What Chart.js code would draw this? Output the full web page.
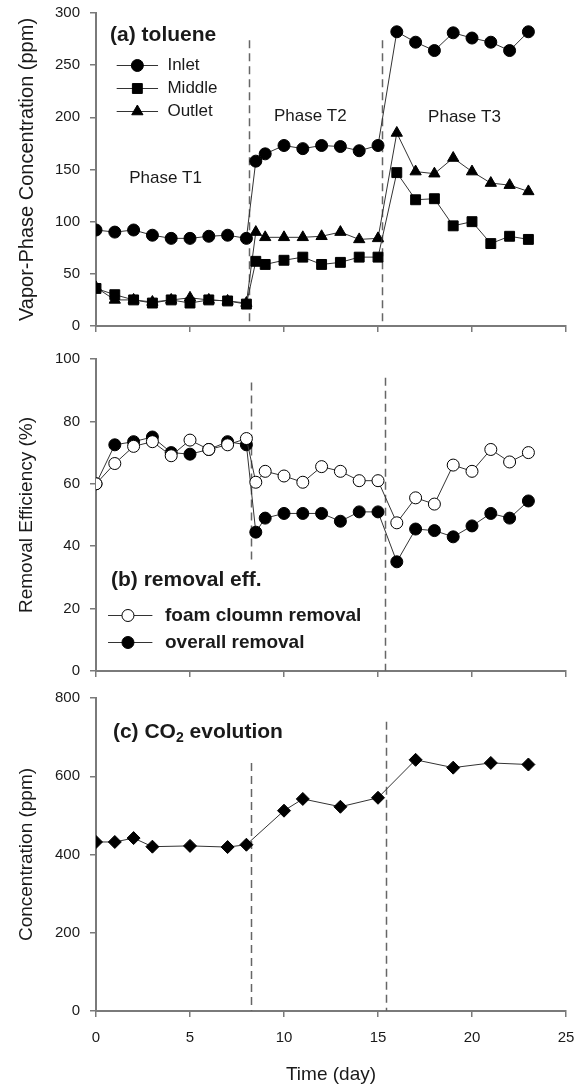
<!DOCTYPE html>
<html>
<head>
<meta charset="utf-8">
<title>Toluene removal</title>
<script src="https://cdn.jsdelivr.net/npm/chart.js@4.4.1/dist/chart.umd.min.js"></script>
<style>
  html, body { margin: 0; padding: 0; background: #fff; }
  #wrap { position: relative; width: 586px; height: 1086px; }
  .panel { position: absolute; left: 0; width: 586px; }
</style>
</head>
<body>
<div id="wrap">
  <div class="panel" style="top:0"><canvas id="chartA" width="586" height="340"></canvas></div>
  <div class="panel" style="top:340px"><canvas id="chartB" width="586" height="340"></canvas></div>
  <div class="panel" style="top:680px"><canvas id="chartC" width="586" height="406"></canvas></div>
</div>
<script>
// ---- data ----
const days = [0, 1, 2, 3, 4, 5, 6, 7, 8, 8.5, 9, 10, 11, 12, 13, 14, 15, 16, 17, 18, 19, 20, 21, 22, 23];
const inlet = [92, 90, 92, 87, 84, 84, 86, 87, 84, 158, 165, 173, 170, 173, 172, 168, 173, 282, 272, 264, 281, 276, 272, 264, 282];
const middle = [36, 30, 25, 22, 25, 22, 25, 24, 21, 62, 59, 63, 66, 59, 61, 66, 66, 147, 121, 122, 96, 100, 79, 86, 83];
const outlet = [37, 25, 25, 23, 25, 27, 25, 24, 22, 90, 85, 85, 85, 86, 90, 83, 84, 185, 148, 146, 161, 148, 137, 135, 129];

const foamEff = [60, 66.5, 72, 73.5, 69, 74, 71, 72.5, 74.5, 60.5, 64, 62.5, 60.5, 65.5, 64, 61, 61, 47.5, 55.5, 53.5, 66, 64, 71, 67, 70];
const overallEff = [60, 72.5, 73.5, 75, 70, 69.5, 71, 73.5, 72.5, 44.5, 49, 50.5, 50.5, 50.5, 48, 51, 51, 35, 45.5, 45, 43, 46.5, 50.5, 49, 54.5];

const co2Days = [0, 1, 2, 3, 5, 7, 8, 10, 11, 13, 15, 17, 19, 21, 23];
const co2 = [432, 432, 442, 420, 422, 419, 425, 512, 542, 522, 545, 642, 622, 634, 630];

const xTicks = [0, 5, 10, 15, 20, 25];
const yTicksA = [0, 50, 100, 150, 200, 250, 300];
const yTicksB = [0, 20, 40, 60, 80, 100];
const yTicksC = [0, 200, 400, 600, 800];

// ---- style ----
const FONT = "'Liberation Sans', Arial, Helvetica, sans-serif";
const AXIS_GRAY = '#7a7a7a';
const LINE_GRAY = '#333';
const DASH_GRAY = '#666';
const TEXT = '#1a1a1a';

const pts = (xs, ys) => xs.map((x, i) => ({ x, y: ys[i] }));

function series(label, xs, ys, style, radius, fill) {
  return {
    label,
    data: pts(xs, ys),
    pointStyle: style,
    pointRadius: radius,
    pointBackgroundColor: fill,
    pointBorderColor: '#000',
    pointBorderWidth: 1,
    borderColor: LINE_GRAY,
    borderWidth: 1,
    tension: 0,
  };
}

function drawMarker(ctx, style, x, y, r, fill) {
  ctx.save();
  ctx.beginPath();
  if (style === 'circle') {
    ctx.arc(x, y, r, 0, Math.PI * 2);
  } else if (style === 'rect') {
    const s = Math.SQRT1_2 * r;
    ctx.rect(x - s, y - s, 2 * s, 2 * s);
  } else if (style === 'triangle') {
    for (let k = 0; k < 3; k++) {
      const a = k * 2 * Math.PI / 3;
      const px = x + Math.sin(a) * r, py = y - Math.cos(a) * r;
      k ? ctx.lineTo(px, py) : ctx.moveTo(px, py);
    }
    ctx.closePath();
  }
  ctx.fillStyle = fill;
  ctx.fill();
  ctx.lineWidth = 1;
  ctx.strokeStyle = '#000';
  ctx.stroke();
  ctx.restore();
}

// dashed phase lines, panel labels, hand-drawn legends
const annotPlugin = {
  id: 'annot',
  beforeDatasetsDraw(chart, args, opts) {
    const { ctx, scales: { x, y } } = chart;
    ctx.save();
    ctx.strokeStyle = DASH_GRAY;
    ctx.lineWidth = 1.5;
    ctx.setLineDash([8, 5]);
    (opts.phaseLines || []).forEach(l => {
      const px = Math.round(x.getPixelForValue(l.x)) + 0.5;
      ctx.beginPath();
      ctx.moveTo(px, y.getPixelForValue(l.from));
      ctx.lineTo(px, y.getPixelForValue(l.to));
      ctx.stroke();
    });
    ctx.restore();
  },
  afterDatasetsDraw(chart, args, opts) {
    const { ctx, scales: { x, y } } = chart;
    ctx.save();
    ctx.fillStyle = TEXT;
    ctx.textBaseline = 'middle';
    (opts.texts || []).forEach(t => {
      let px = x.getPixelForValue(t.x);
      const py = y.getPixelForValue(t.y);
      const weight = t.bold ? 'bold ' : '';
      ctx.textAlign = 'left';
      if (t.center) {
        ctx.font = weight + t.size + 'px ' + FONT;
        px -= ctx.measureText(t.parts.map(p => p.t).join('')).width / 2;
      }
      t.parts.forEach(p => {
        const size = p.sub ? Math.round(t.size * 0.65) : t.size;
        ctx.font = weight + size + 'px ' + FONT;
        ctx.fillText(p.t, px, p.sub ? py + t.size * 0.3 : py);
        px += ctx.measureText(p.t).width;
      });
    });
    const lg = opts.legend;
    if (lg) {
      lg.rows.forEach(row => {
        const ds = chart.data.datasets[row.ds];
        const py = Math.round(y.getPixelForValue(row.y)) + 0.5;
        const x0 = x.getPixelForValue(lg.x0), x1 = x.getPixelForValue(lg.x1);
        ctx.strokeStyle = LINE_GRAY;
        ctx.lineWidth = 1;
        ctx.beginPath();
        ctx.moveTo(x0, py);
        ctx.lineTo(x1, py);
        ctx.stroke();
        drawMarker(ctx, ds.pointStyle, x.getPixelForValue(lg.xm), py, ds.pointRadius, ds.pointBackgroundColor);
        ctx.fillStyle = TEXT;
        ctx.font = (lg.bold ? 'bold ' : '') + lg.size + 'px ' + FONT;
        ctx.textAlign = 'left';
        ctx.fillText(ds.label, x.getPixelForValue(lg.xt), py);
      });
    }
    ctx.restore();
  },
};

function scales(yMin, yMax, yTicks, yTitle, yTitleSize, xHeight, showXLabels) {
  return {
    x: {
      type: 'linear',
      min: 0,
      max: 25,
      afterBuildTicks: s => { s.ticks = xTicks.map(v => ({ value: v })); },
      ticks: { display: showXLabels, color: TEXT, font: { family: FONT, size: 15 }, padding: 12, maxRotation: 0 },
      grid: { drawOnChartArea: false, drawTicks: true, tickLength: 6, color: AXIS_GRAY, lineWidth: 1.5 },
      border: { color: AXIS_GRAY, width: 2 },
      title: {
        display: showXLabels,
        text: 'Time (day)',
        color: TEXT,
        font: { family: FONT, size: 19 },
        padding: { top: 0, bottom: 0 },
      },
      afterFit: s => { s.height = xHeight; s.paddingLeft = 0; s.paddingRight = 0; },
    },
    y: {
      min: yMin,
      max: yMax,
      afterBuildTicks: s => { s.ticks = yTicks.map(v => ({ value: v })); },
      ticks: { color: TEXT, font: { family: FONT, size: 15 }, padding: 10 },
      grid: { drawOnChartArea: false, drawTicks: true, tickLength: 6, color: AXIS_GRAY, lineWidth: 1.5 },
      border: { color: AXIS_GRAY, width: 2 },
      title: {
        display: true,
        text: yTitle,
        color: TEXT,
        font: { family: FONT, size: yTitleSize },
        padding: { top: 15, bottom: 0 },
      },
      afterFit: s => { s.width = 96; s.paddingTop = 0; s.paddingBottom = 0; },
    },
  };
}

function makeChart(id, datasets, scaleOpts, padTop, annot) {
  return new Chart(document.getElementById(id), {
    type: 'line',
    data: { datasets },
    options: {
      responsive: false,
      animation: false,
      devicePixelRatio: 1,
      layout: { padding: { left: 0, right: 20, top: padTop, bottom: 0 } },
      scales: scaleOpts,
      plugins: {
        legend: { display: false },
        tooltip: { enabled: false },
        annot,
      },
    },
    plugins: [annotPlugin],
  });
}

// (a) toluene
makeChart('chartA', [
  series('Inlet', days, inlet, 'circle', 6, '#000'),
  series('Middle', days, middle, 'rect', 7, '#000'),
  series('Outlet', days, outlet, 'triangle', 6.5, '#000'),
], scales(0, 300, yTicksA, 'Vapor-Phase Concentration (ppm)', 20, 14, false), 13, {
  phaseLines: [{ x: 8.15, from: 274, to: 0 }, { x: 15.2, from: 274, to: 0 }],
  texts: [
    { x: 0.75, y: 279, size: 21, bold: true, parts: [{ t: '(a) toluene' }] },
    { x: 3.7, y: 142, size: 17, center: true, parts: [{ t: 'Phase T1' }] },
    { x: 11.4, y: 201, size: 17, center: true, parts: [{ t: 'Phase T2' }] },
    { x: 19.6, y: 200, size: 17, center: true, parts: [{ t: 'Phase T3' }] },
  ],
  legend: {
    x0: 1.1, x1: 3.3, xm: 2.2, xt: 3.8, size: 17, bold: false,
    rows: [{ ds: 0, y: 250 }, { ds: 1, y: 228 }, { ds: 2, y: 206 }],
  },
});

// (b) removal efficiency
makeChart('chartB', [
  series('foam cloumn removal', days, foamEff, 'circle', 6, '#fff'),
  series('overall removal', days, overallEff, 'circle', 6, '#000'),
], scales(0, 100, yTicksB, 'Removal Efficiency (%)', 19, 9, false), 19, {
  phaseLines: [{ x: 8.25, from: 92.5, to: 35.5 }, { x: 15.35, from: 94, to: 0 }],
  texts: [
    { x: 0.8, y: 29, size: 21, bold: true, parts: [{ t: '(b) removal eff.' }] },
  ],
  legend: {
    x0: 0.64, x1: 3.0, xm: 1.7, xt: 3.67, size: 19, bold: true,
    rows: [{ ds: 0, y: 18 }, { ds: 1, y: 9.3 }],
  },
});

// (c) CO2 evolution
makeChart('chartC', [
  series('CO2', co2Days, co2, 'rectRot', 6.5, '#000'),
], scales(0, 800, yTicksC, 'Concentration (ppm)', 19, 75, true), 18, {
  phaseLines: [{ x: 8.25, from: 634, to: 0 }, { x: 15.4, from: 739, to: 0 }],
  texts: [
    { x: 0.9, y: 713, size: 21, bold: true, parts: [{ t: '(c) CO' }, { t: '2', sub: true }, { t: ' evolution' }] },
  ],
});
</script>
</body>
</html>
